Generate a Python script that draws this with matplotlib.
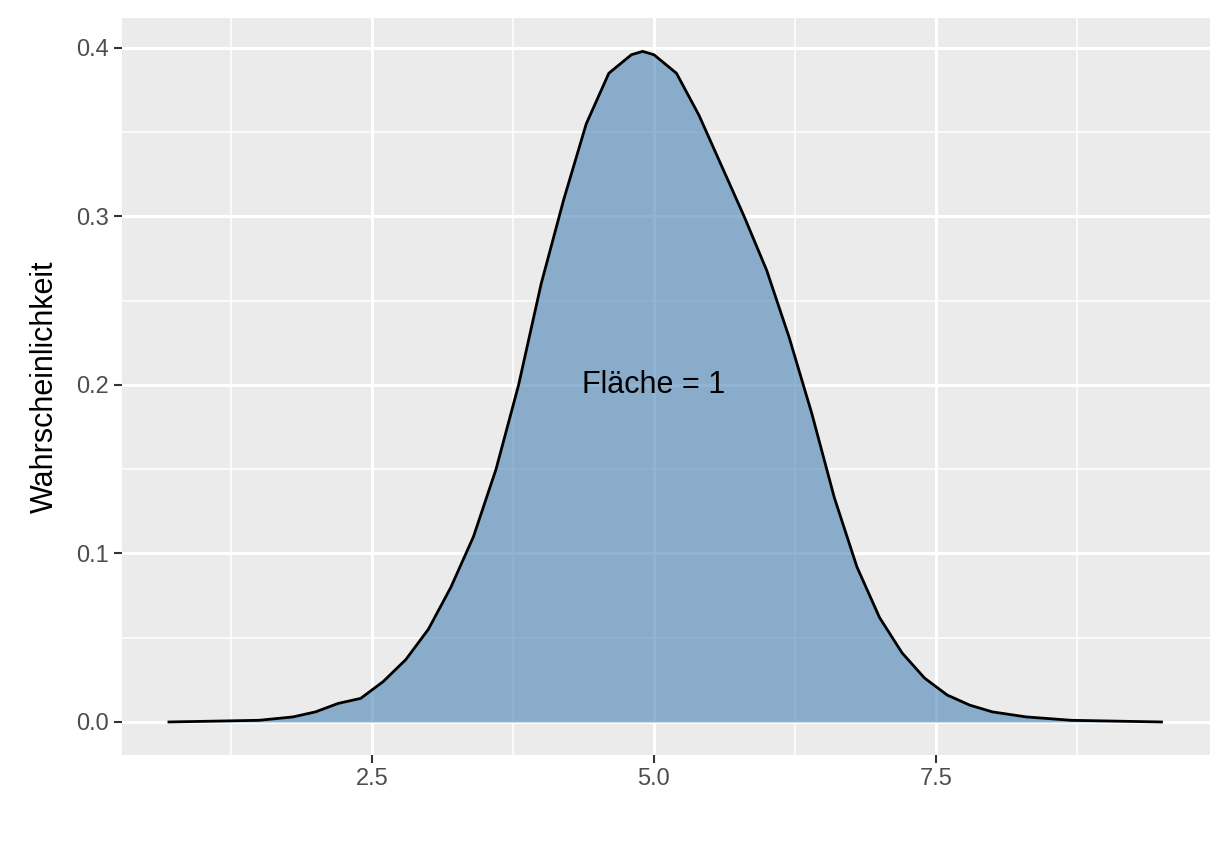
import numpy as np
import matplotlib.pyplot as plt

# density curve
x_vals = [0.7, 1.5, 1.8, 2.0, 2.2, 2.4, 2.6, 2.8, 3.0, 3.2, 3.4, 3.6, 3.8, 4.0, 4.2, 4.4,
          4.6, 4.8, 4.9, 5.0, 5.2, 5.4, 5.6, 5.8, 6.0, 6.2, 6.4, 6.6, 6.8, 7.0, 7.2, 7.4,
          7.6, 7.8, 8.0, 8.3, 8.7, 9.5]
dens = [0.0, 0.001, 0.003, 0.006, 0.011, 0.014, 0.024, 0.037, 0.055, 0.08, 0.11, 0.15,
        0.2, 0.26, 0.31, 0.355, 0.385, 0.396, 0.398, 0.396, 0.385, 0.36, 0.33, 0.3, 0.268,
        0.228, 0.183, 0.133, 0.092, 0.062, 0.041, 0.026, 0.016, 0.01, 0.006, 0.003, 0.001, 0.0]
x_ticks = [2.5, 5.0, 7.5]
y_ticks = [0.0, 0.1, 0.2, 0.3, 0.4]

plt.rcParams['font.family'] = ['Liberation Sans', 'DejaVu Sans']
fig = plt.figure(figsize=(12.32, 8.64), dpi=100)
ax = fig.add_axes([122/1232, 1-755/864, 1088/1232, 737/864])
ax.set_facecolor('#EBEBEB')

ax.fill_between(x_vals, dens, color='#4682B4', alpha=0.6, lw=0, zorder=3)
ax.plot(x_vals, dens, color='black', lw=2, zorder=4)
ax.text(5.0, 0.2, 'Fläche = 1', ha='center', va='center', fontsize=22, zorder=5)

ax.set_xlim(0.284, 9.93)
ax.set_ylim(-0.0196, 0.4178)
ax.set_xticks(x_ticks)
ax.set_xticklabels(['2.5', '5.0', '7.5'])
ax.set_yticks(y_ticks)
ax.set_yticklabels([f'{v:.1f}' for v in y_ticks])
ax.set_xticks([1.25, 3.75, 6.25, 8.75], minor=True)
ax.set_yticks([0.05, 0.15, 0.25, 0.35], minor=True)
ax.grid(which='major', color='white', lw=2.2, zorder=0)
ax.grid(which='minor', color='white', lw=1.1, zorder=0)
ax.set_axisbelow(True)
for s in ax.spines.values():
    s.set_visible(False)
ax.tick_params(which='major', labelsize=17, labelcolor='#4D4D4D', color='#333333', length=6, width=1.5)
ax.tick_params(which='minor', length=0)
ax.set_ylabel('Wahrscheinlichkeit', fontsize=22, labelpad=12)

fig.savefig('out.png', dpi=100)
